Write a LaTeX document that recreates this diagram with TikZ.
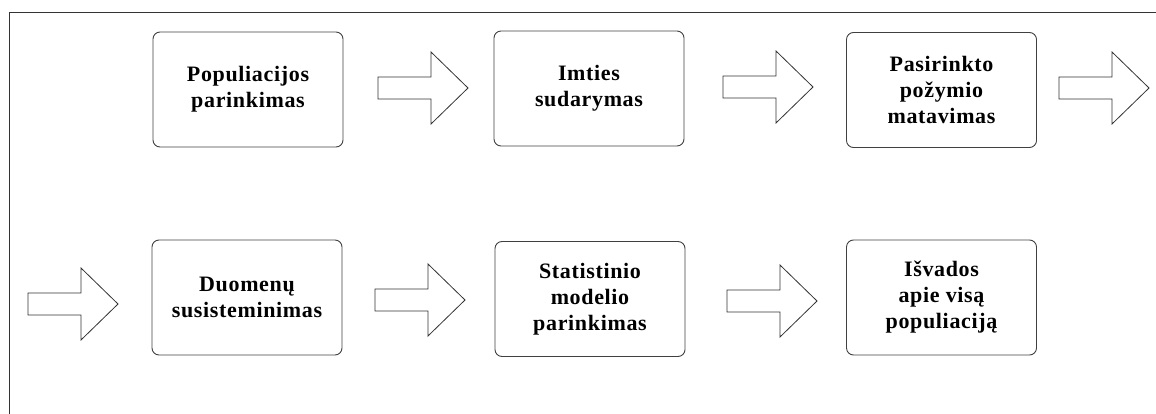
\documentclass[tikz,border=0pt]{standalone}
\usepackage{fontspec}
\newfontfamily\boxfont{Liberation Serif Bold}[LetterSpace=3]
\begin{document}
\begin{tikzpicture}[x=1pt,y=-1pt,
  stepbox/.style={draw=black!75, line width=0.9pt, rounded corners=7pt,
    minimum width=190pt, minimum height=115pt, inner sep=0pt, align=center,
    font=\boxfont\fontsize{22}{26}\selectfont},
  blockarrow/.pic={\draw[black!80, line width=0.8pt, fill=white]
     (0,-11) -- (53,-11) -- (53,-36) -- (90,0) -- (53,36) -- (53,11) -- (0,11) -- cycle;}]
\useasboundingbox (0,0) rectangle (1156,414);
\draw[black!80, line width=1pt] (9.5,414) -- (9.5,12.5) -- (1156,12.5);
\node[stepbox] (b1) at (248,89.5) {Populiacijos\\parinkimas};
\node[stepbox] (b2) at (589,88.5) {Imties\\sudarymas};
\node[stepbox] (b3) at (941.5,90) {Pasirinkto\\požymio\\matavimas};
\node[stepbox] (b4) at (247,297.5) {Duomenų\\susisteminimas};
\node[stepbox] (b5) at (590,299) {Statistinio\\modelio\\parinkimas};
\node[stepbox] (b6) at (941.5,297.5) {Išvados\\apie visą\\populiaciją};
\pic at (378,88) {blockarrow};
\pic at (723,87) {blockarrow};
\pic at (1059,88) {blockarrow};
\pic at (28,304) {blockarrow};
\pic at (375,300) {blockarrow};
\pic at (727,301) {blockarrow};
\end{tikzpicture}
\end{document}
